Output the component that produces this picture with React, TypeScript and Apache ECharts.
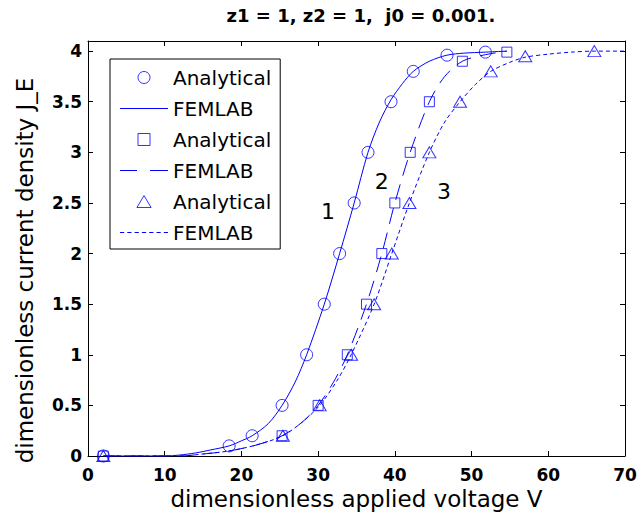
import React, { useEffect, useRef } from "react";
import * as echarts from "echarts";

// ---- data ----
const TITLE = "z1 = 1, z2 = 1,  j0 = 0.001.";
const X_NAME = "dimensionless applied voltage V";
const Y_NAME = "dimensionless current density J_E";
const Y_TICKS = [0, 0.5, 1, 1.5, 2, 2.5, 3, 3.5, 4];

// Analytical markers
const V1_ANALYTICAL = [2, 18.4, 21.4, 25.3, 28.5, 30.8, 32.8, 34.7, 36.5, 39.5, 42.4, 46.8, 51.8];
const J1_ANALYTICAL = [0, 0.1, 0.2, 0.5, 1.0, 1.5, 2.0, 2.5, 3.0, 3.5, 3.8, 3.96, 3.99];
const V2_ANALYTICAL = [2, 25.3, 30.0, 33.8, 36.3, 38.3, 40.0, 42.0, 44.5, 48.8, 54.6];
const J2_ANALYTICAL = [0, 0.2, 0.5, 1.0, 1.5, 2.0, 2.5, 3.0, 3.5, 3.9, 3.99];
const V3_ANALYTICAL = [2, 25.4, 30.2, 34.3, 37.3, 39.6, 41.9, 44.5, 48.5, 52.5, 57.0, 66.0];
const J3_ANALYTICAL = [0, 0.2, 0.5, 1.0, 1.5, 2.0, 2.5, 3.0, 3.5, 3.8, 3.95, 4.0];

// FEMLAB curves
const V1_FEMLAB = [2, 10, 12, 14, 16, 18.4, 20, 21.4, 23.5, 25.3, 27, 28.5, 30.8, 32.8, 34.7, 36.5, 38, 39.5, 41, 42.4, 44.5, 46.8, 49, 51.8, 54.6];
const J1_FEMLAB = [0, 0, 0.01, 0.03, 0.06, 0.1, 0.15, 0.2, 0.32, 0.5, 0.73, 1.0, 1.5, 2.0, 2.5, 3.0, 3.3, 3.52, 3.68, 3.8, 3.9, 3.96, 3.98, 3.99, 4.0];
const V2_FEMLAB = [2, 12, 15, 18.4, 22, 25.3, 28, 30, 32, 33.8, 36.3, 38.3, 40, 42, 44.5, 46.5, 48.8, 51.5, 54.6];
const J2_FEMLAB = [0, 0, 0.02, 0.05, 0.11, 0.2, 0.34, 0.5, 0.73, 1.0, 1.5, 2.0, 2.5, 3.0, 3.5, 3.75, 3.9, 3.96, 4.0];
const V3_FEMLAB = [2, 12, 15, 18.4, 22, 25.4, 28, 30.2, 32.5, 34.3, 37.3, 39.6, 41.9, 44.5, 46.5, 48.5, 50.5, 52.5, 55, 57, 60, 63, 66, 70];
const J3_FEMLAB = [0, 0, 0.02, 0.05, 0.11, 0.2, 0.34, 0.5, 0.75, 1.0, 1.5, 2.0, 2.5, 3.0, 3.3, 3.5, 3.67, 3.8, 3.89, 3.94, 3.97, 3.99, 4.0, 4.0];

// curve annotations
const CURVE_LABELS = ["1", "2", "3"];
const LABEL_V = [31.3, 38.3, 46.4];
const LABEL_J = [2.42, 2.71, 2.61];

const FONT = "'DejaVu Sans', sans-serif";
const BLUE = "#0000ff";

// legend icon shapes
const ICON_SOLID = "path://M0,0h48v1h-48z";
const ICON_DASHED = "path://M0,0h17v1h-17zM30,0h18v1h-18z";
const ICON_DOTTED =
  "path://M0,0h4v1h-4zM7,0h4v1h-4zM14,0h4v1h-4zM21,0h4v1h-4zM28,0h4v1h-4zM35,0h4v1h-4zM42,0h4v1h-4z";
const ICON_SQUARE = "path://M0,0h10v10h-10z";
const ICON_TRIANGLE = "path://M6.5,0L13,11L0,11Z";

const zip = (xs: number[], ys: number[]) => xs.map((x, i) => [x, ys[i]]);

export default function App() {
  const ref = useRef<HTMLDivElement>(null);
  useEffect(() => {
    document.body.style.margin = "0";
    if (!ref.current) return;
    const chart = echarts.init(ref.current, null, { renderer: "svg" });

    const analytical = [
      { v: V1_ANALYTICAL, j: J1_ANALYTICAL, symbol: "circle", size: 12, icon: "circle" },
      { v: V2_ANALYTICAL, j: J2_ANALYTICAL, symbol: "rect", size: 10, icon: ICON_SQUARE },
      { v: V3_ANALYTICAL, j: J3_ANALYTICAL, symbol: "triangle", size: [13, 11], icon: ICON_TRIANGLE },
    ];
    const femlab = [
      { v: V1_FEMLAB, j: J1_FEMLAB, type: "solid" as any, icon: ICON_SOLID },
      { v: V2_FEMLAB, j: J2_FEMLAB, type: [16, 9] as any, icon: ICON_DASHED },
      { v: V3_FEMLAB, j: J3_FEMLAB, type: [4, 3] as any, icon: ICON_DOTTED },
    ];

    const series: any[] = [];
    const legendData: any[] = [];
    for (let i = 0; i < 3; i++) {
      const aName = `Analytical ${i + 1}`;
      const fName = `FEMLAB ${i + 1}`;
      legendData.push({
        name: aName,
        icon: analytical[i].icon,
        itemStyle: { color: "rgba(0,0,0,0)", borderColor: BLUE, borderWidth: 1 },
      });
      legendData.push({
        name: fName,
        icon: femlab[i].icon,
        itemStyle: { color: BLUE, borderColor: BLUE, borderWidth: 0 },
      });
      series.push({
        name: aName,
        type: "scatter",
        data: zip(analytical[i].v, analytical[i].j),
        symbol: analytical[i].symbol,
        symbolSize: analytical[i].size,
        itemStyle: { color: "rgba(0,0,0,0)", borderColor: BLUE, borderWidth: 1 },
        z: 3,
        silent: true,
      });
      series.push({
        name: fName,
        type: "line",
        data: zip(femlab[i].v, femlab[i].j),
        symbol: "none",
        smooth: 0.3,
        lineStyle: { color: BLUE, width: 1, type: femlab[i].type },
        itemStyle: { color: BLUE, borderColor: BLUE },
        z: 2,
        silent: true,
        markPoint: {
          symbol: "circle",
          symbolSize: 1,
          silent: true,
          itemStyle: { color: "rgba(0,0,0,0)" },
          label: {
            show: true,
            position: "inside",
            formatter: () => CURVE_LABELS[i],
            color: "#000",
            fontFamily: FONT,
            fontSize: 22,
          },
          data: [{ name: CURVE_LABELS[i], coord: [LABEL_V[i], LABEL_J[i]] }],
        },
      });
    }

    const axisLine = { show: true, onZero: false, lineStyle: { color: "#000", width: 1 } };
    const axisTick = { show: true, inside: true, length: 5, lineStyle: { color: "#000", width: 1 } };
    const tickLabel = { fontFamily: FONT, fontWeight: "bold", fontSize: 17, color: "#000" };

    chart.setOption({
      animation: false,
      backgroundColor: "#fff",
      title: {
        text: TITLE,
        left: 356,
        textAlign: "center",
        top: 1,
        textStyle: { fontFamily: FONT, fontWeight: "bold", fontSize: 18, color: "#000" },
      },
      legend: {
        orient: "vertical",
        left: 110,
        top: 59,
        itemWidth: 48,
        itemHeight: 12,
        itemGap: 9,
        padding: [7.5, 9, 5.5, 10],
        borderColor: "#000",
        borderWidth: 1,
        backgroundColor: "#fff",
        selectedMode: false,
        symbolKeepAspect: true,
        data: legendData,
        formatter: (n: string) => n.replace(/ \d$/, ""),
        textStyle: { fontFamily: FONT, fontSize: 20, lineHeight: 22, color: "#000" },
      },
      grid: { left: 88, right: 12, top: 41, bottom: 67, outerBoundsMode: "none" },
      xAxis: [
        {
          type: "value",
          min: 0,
          max: 70,
          interval: 10,
          position: "bottom",
          axisLine,
          axisTick,
          splitLine: { show: false },
          axisLabel: { ...tickLabel, margin: 10 },
          name: X_NAME,
          nameLocation: "middle",
          nameGap: 24,
          nameTextStyle: { fontFamily: FONT, fontSize: 23, color: "#000", verticalAlign: "top" },
        },
        {
          type: "value",
          min: 0,
          max: 70,
          interval: 10,
          position: "top",
          axisLine,
          axisTick,
          splitLine: { show: false },
          axisLabel: { show: false },
        },
      ],
      yAxis: [
        {
          type: "value",
          min: 0,
          max: 4.1,
          position: "left",
          axisLine,
          axisTick: { ...axisTick, customValues: Y_TICKS },
          splitLine: { show: false },
          axisLabel: { ...tickLabel, margin: 6, customValues: Y_TICKS },
          name: Y_NAME,
          nameLocation: "middle",
          nameGap: 52,
          nameTextStyle: { fontFamily: FONT, fontSize: 23, color: "#000", padding: [0, 44, 0, 0] },
        },
        {
          type: "value",
          min: 0,
          max: 4.1,
          position: "right",
          axisLine,
          axisTick: { ...axisTick, customValues: Y_TICKS },
          splitLine: { show: false },
          axisLabel: { show: false },
        },
      ],
      series,
    });
    return () => chart.dispose();
  }, []);
  return <div ref={ref} style={{ width: 637, height: 523 }} />;
}
